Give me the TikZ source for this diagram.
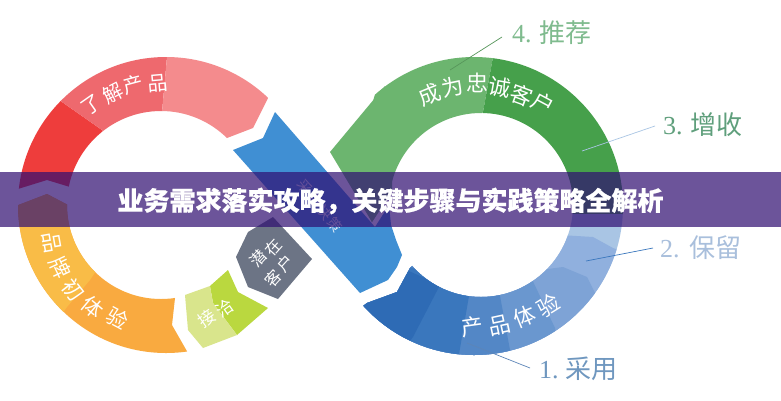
\documentclass[tikz,border=0pt]{standalone}
\usepackage{fontspec}
\setmainfont{Liberation Serif}
\newfontfamily\cjk{Noto Sans CJK SC}
\newfontfamily\cjkt[BoldFeatures={FakeBold=0.6}]{Noto Sans CJK SC}
\definecolor{bandc}{RGB}{48,15,114}
\definecolor{rd}{HTML}{EE3D3C}
\definecolor{rm}{HTML}{EE696E}
\definecolor{rl}{HTML}{F48B8D}
\definecolor{ol}{HTML}{F9BC47}
\definecolor{od}{HTML}{F9AA40}
\definecolor{gl}{HTML}{D9E58C}
\definecolor{gd}{HTML}{BAD83F}
\definecolor{gy}{HTML}{6C7485}
\definecolor{dia}{HTML}{408FD3}
\definecolor{gnl}{HTML}{6CB56F}
\definecolor{gnd}{HTML}{46A04B}
\definecolor{b1}{HTML}{2E6BB5}
\definecolor{b2}{HTML}{3A77BD}
\definecolor{b3}{HTML}{5387C6}
\definecolor{b4}{HTML}{6A97CF}
\definecolor{b5}{HTML}{7EA3D6}
\definecolor{b6}{HTML}{90B0DE}
\definecolor{b7}{HTML}{A9C5E4}
\definecolor{t4}{HTML}{7FBB8E}
\definecolor{t3}{HTML}{5F9F7C}
\definecolor{t2}{HTML}{A9BFDC}
\definecolor{t1}{HTML}{6F97BF}
\tikzset{
  ringtxt/.style={text=white,inner sep=0pt,font=\cjk\fontsize{#1}{#1}\selectfont},
  outlabel/.style={inner sep=0pt,anchor=west,font=\fontsize{26}{26}\selectfont},
  leader/.style={line width=0.7pt}
}
\begin{document}
\begin{tikzpicture}[x=1pt,y=-1pt]
\useasboundingbox (0,0) rectangle (781,400);
\fill[white] (0,0) rectangle (781,400);
% left ring
\begin{scope}[even odd rule]
\clip (166,205) circle (148pt) (161,205) circle (94pt);
\fill[rd] (5,193)--(47,180)--(70,187)--(110,170)--(102,130)--(62,102)--(40,86)--(0,100)--cycle;
\fill[rm] (62,102)--(40,86)--(60,30)--(168,30)--(167,57)--(162,112)--(155,130)--(110,150)--(102,130)--cycle;
\fill[rl] (167,57)--(168,30)--(275,84)--(267,100)--(253,128)--(227,138)--(200,170)--(162,130)--(162,112)--cycle;
\fill[od] (8,209)--(47,194)--(68,205)--(150,260)--(175,298)--(172,325)--(188,353)--(195,370)--(0,370)--cycle;
\fill[ol] (8,209)--(47,194)--(68,205)--(110,250)--(90,280)--(67,307)--(50,330)--(0,300)--cycle;
\end{scope}
% small shapes
\fill[gd] (210,286)--(228,270)--(238,292)--(268,308)--(237,335)--(213,303)--cycle;
\fill[gl] (185,295)--(210,286)--(213,303)--(237,335)--(203,348)--(188,330)--cycle;
\fill[gy] (273,217)--(312,259)--(278,299)--(248,287)--(236,257)--(248,232)--cycle;
% right ring
\begin{scope}[even odd rule]
\clip (474,206) circle (149pt) (481,205) circle (92pt);
\fill[gnl] (500,0)--(493,57)--(483,112)--(440,190)--(392,192)--(372,222)--(350,180)--(385,60)--cycle;
\fill[gnd] (493,57)--(500,0)--(640,0)--(640,214)--(500,214)--(483,112)--cycle;
\begin{scope}[nonzero rule]
\clip (640,400)--(640,214)--(430,214)--(430,250)--(410,268)--(397,292)--(367,303)--(355,312)--(420,400)--cycle;
\fill[b7] (300,214) rectangle (640,400);
\fill[b6] (560,235)--(593,237)--(613,248)--(640,258)--(640,400)--(400,400)--(400,240)--cycle;
\fill[b5] (540,270)--(563,267)--(587,277)--(595,293)--(615,330)--(500,400)--(340,400)--(340,240)--cycle;
\fill[b4] (530,275)--(555,328)--(560,360)--(400,400)--(340,400)--(340,240)--cycle;
\fill[b3] (498,285)--(510,350)--(510,370)--(340,400)--(340,240)--cycle;
\fill[b2] (470,290)--(458,360)--(340,400)--(340,240)--cycle;
\fill[b1] (440,285)--(413,337)--(395,360)--(340,400)--(340,240)--cycle;
\end{scope}
\end{scope}
\fill[gnl] (330,152)--(385,86)--(392,130)--(392,190)--(372,222)--cycle;
% diagonal
\fill[dia] (275,112)--(375,227)--(389,205)--(391,225)--(396,240)--(402,255)--(397,267)--(388,280)--(360,293)--(233,150)--(263,138)--cycle;
% ring labels
\foreach \x/\y/\r/\c [count=\i] in {92/105/35/了,113/93/27/解,133/85/15/产,158/83/5/品}
  \node[ringtxt=20,rotate=\r] (aw\i) at (\x,\y) {\c};
\foreach \x/\y/\r/\c [count=\i] in {52/243/-80/品,60/268/-65/牌,73/290/-52/初,93/307/-40/体,118/318/-28/验}
  \node[ringtxt=21,rotate=\r] (br\i) at (\x,\y) {\c};
\foreach \x/\y/\r/\c [count=\i] in {207/318/35/接,225/308/35/洽}
  \node[ringtxt=17,rotate=\r] (qi\i) at (\x,\y) {\c};
\foreach \x/\y/\r/\c [count=\i] in {258/258/48/潜,273/247/48/在,273/278/48/客,285/263/48/户}
  \node[ringtxt=16,rotate=\r] (po\i) at (\x,\y) {\c};
\foreach \x/\y/\r/\c [count=\i] in {430/95/22/成,453/87/12/为,477/83/0/忠,500/87/-10/诚,522/95/-20/客,543/103/-28/户}
  \node[ringtxt=22,rotate=\r] (lo\i) at (\x,\y) {\c};
\foreach \x/\y/\r/\c [count=\i] in {472/327/8/产,500/325/12/品,525/317/22/体,548/305/32/验}
  \node[ringtxt=22,rotate=\r] (ex\i) at (\x,\y) {\c};
\node[ringtxt=14,rotate=-52,opacity=.85] (de) at (320,206) {采\hspace{2pt}用\hspace{2pt}决\hspace{2pt}策};
% outer labels and leaders
\node[outlabel,text=t4] (l4) at (512,33) {4.\hspace{8pt}{\cjk 推荐}};
\node[outlabel,text=t3] (l3) at (663,125) {3.\hspace{8pt}{\cjk 增收}};
\node[outlabel,text=t2] (l2) at (660,248) {2.\hspace{10pt}{\cjk 保留}};
\node[outlabel,text=t1] (l1) at (539,369) {1.\hspace{7pt}{\cjk 采用}};
\coordinate (c4a) at (502,37); \coordinate (c4b) at (450,70);
\coordinate (c3a) at (655,126); \coordinate (c3b) at (582,151);
\coordinate (c2a) at (653,248); \coordinate (c2b) at (586,261);
\coordinate (c1a) at (530,368); \coordinate (c1b) at (467,343);
\draw[leader,draw=gnd!70!gray] (c4a)--(c4b);
\draw[leader,draw=b7] (c3a)--(c3b);
\draw[leader,draw=b2] (c2a)--(c2b);
\draw[leader,draw=b3!80!gray] (c1a)--(c1b);
% band
\fill[bandc,opacity=.71] (0,172) rectangle (781,227);
\node[text=white,inner sep=0pt,font=\cjkt\bfseries\fontsize{26}{26}\selectfont] (title) at (390.5,201) {业务需求落实攻略，关键步骤与实践策略全解析};
\end{tikzpicture}
\end{document}
